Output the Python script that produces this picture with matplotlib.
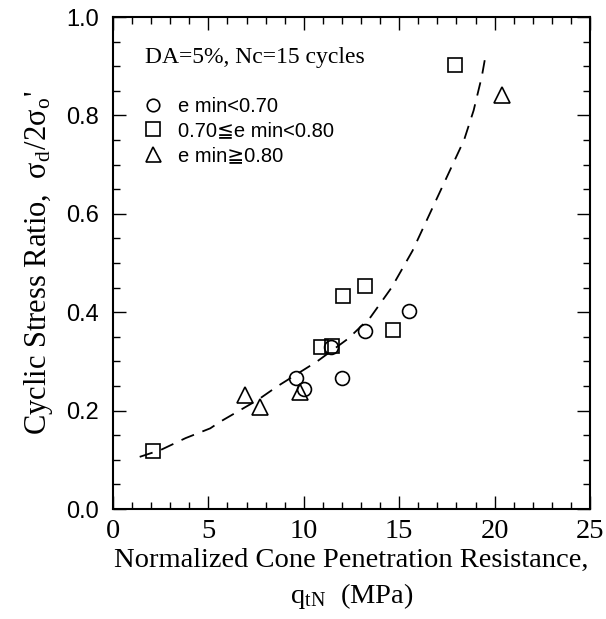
import matplotlib
matplotlib.use("Agg")
import matplotlib.pyplot as plt
from matplotlib.ticker import MultipleLocator

plt.rcParams['mathtext.fontset'] = 'stix'

# Data
circle_x = [9.6, 10.0, 11.4, 12.0, 13.2, 15.5]
circle_y = [0.266, 0.243, 0.33, 0.267, 0.362, 0.403]

square_x = [2.1, 10.9, 11.5, 12.05, 13.2, 14.7, 17.9]
square_y = [0.118, 0.329, 0.331, 0.433, 0.453, 0.364, 0.902]

triangle_x = [6.9, 7.7, 9.8, 20.4]
triangle_y = [0.232, 0.208, 0.238, 0.841]

curve_x = [1.4, 2.5, 3.8, 5.1, 5.6, 7.6, 8.6, 10.7, 12.35, 13.5, 14.6, 15.7,
           16.6, 17.5, 18.4, 18.9, 19.33, 19.55]
curve_y = [0.106, 0.12, 0.144, 0.164, 0.177, 0.222, 0.249, 0.30, 0.347, 0.39,
           0.45, 0.525, 0.60, 0.675, 0.75, 0.81, 0.879, 0.927]

labels = ["e min<0.70", "0.70\u2266e min<0.80", "e min\u22670.80"]
x_ticks = [0, 5, 10, 15, 20, 25]
y_ticks = [0.0, 0.2, 0.4, 0.6, 0.8, 1.0]

serif = ['Liberation Serif', 'DejaVu Serif', 'DejaVu Sans']
sans = ['Liberation Sans', 'DejaVu Sans']

fig = plt.figure(figsize=(6.06, 6.19), dpi=100)
ax = fig.add_axes([113/606, 1-509/619, (590-113)/606, (509-17)/619])

ax.plot(curve_x, curve_y, color='black', lw=1.3, linestyle=(0, (7.5, 5)))

mk = dict(linestyle='none', markerfacecolor='none', markeredgecolor='black',
          markeredgewidth=1.2)
ax.plot(circle_x, circle_y, marker='o', markersize=10, label=labels[0], **mk)
ax.plot(square_x, square_y, marker='s', markersize=10.5, label=labels[1], **mk)
ax.plot(triangle_x, triangle_y, marker='^', markersize=12, label=labels[2], **mk)

ax.set_xlim(0, 25)
ax.set_ylim(0, 1.0)
ax.set_xticks(x_ticks)
ax.set_yticks(y_ticks)
ax.set_xticklabels([str(v) for v in x_ticks], family=serif, fontsize=20.5)
ax.set_yticklabels([f"{v:.1f}" for v in y_ticks], family=sans, fontsize=17)
ax.xaxis.set_minor_locator(MultipleLocator(1))
ax.yaxis.set_minor_locator(MultipleLocator(0.05))
ax.tick_params(which='both', direction='in', top=True, right=True, width=1.0)
ax.tick_params(which='major', length=9.5)
ax.tick_params(which='minor', length=5)
ax.tick_params(axis='y', pad=10)
ax.tick_params(axis='x', pad=7)
for s in ax.spines.values():
    s.set_linewidth(1.5)

ax.set_xlabel("Normalized Cone Penetration Resistance,\nq$_\\mathregular{tN}$  (MPa)",
              family=serif, fontsize=20.5, linespacing=1.35, labelpad=3)
ax.set_ylabel("Cyclic Stress Ratio,  \u03c3$_\\mathregular{d}$/2\u03c3$_\\mathregular{o}$'",
              family=serif, fontsize=22, labelpad=8)

ax.text(1.68, 0.906, "DA=5%, Nc=15 cycles", family=serif, fontsize=17,
        va='baseline', ha='left')

leg = ax.legend(loc='upper left', bbox_to_anchor=(0.062, 0.838), frameon=False,
                prop={'family': sans, 'size': 14.5}, handlelength=1.0,
                handletextpad=0.75, labelspacing=0.28, borderaxespad=0,
                borderpad=0, markerscale=0.9)

fig.savefig("out.png", dpi=100)
